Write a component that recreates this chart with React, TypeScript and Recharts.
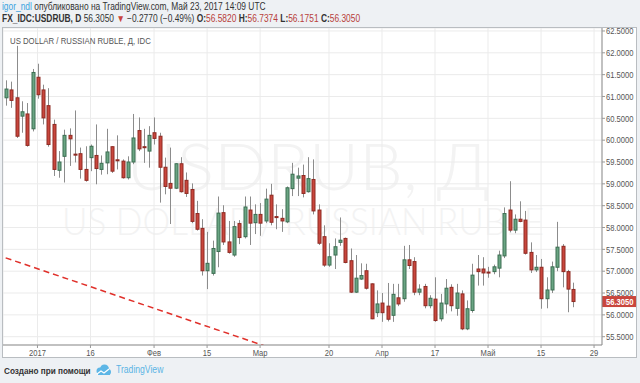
import React from 'react';
import {
  Bar,
  BarChart,
  CartesianGrid,
  ReferenceLine,
  XAxis,
  YAxis,
} from 'recharts';

// trading days, Dec 23 2016 .. May 23 2017
const dates = [
  '2016-12-23', '2016-12-26', '2016-12-27', '2016-12-28', '2016-12-29', '2016-12-30',
  '2017-01-02', '2017-01-03', '2017-01-04', '2017-01-05', '2017-01-06', '2017-01-09',
  '2017-01-10', '2017-01-11', '2017-01-12', '2017-01-13', '2017-01-16', '2017-01-17',
  '2017-01-18', '2017-01-19', '2017-01-20', '2017-01-23', '2017-01-24', '2017-01-25',
  '2017-01-26', '2017-01-27', '2017-01-30', '2017-01-31', '2017-02-01', '2017-02-02',
  '2017-02-03', '2017-02-06', '2017-02-07', '2017-02-08', '2017-02-09', '2017-02-10',
  '2017-02-13', '2017-02-14', '2017-02-15', '2017-02-16', '2017-02-17', '2017-02-20',
  '2017-02-21', '2017-02-22', '2017-02-23', '2017-02-24', '2017-02-27', '2017-02-28',
  '2017-03-01', '2017-03-02', '2017-03-03', '2017-03-06', '2017-03-07', '2017-03-08',
  '2017-03-09', '2017-03-10', '2017-03-13', '2017-03-14', '2017-03-15', '2017-03-16',
  '2017-03-17', '2017-03-20', '2017-03-21', '2017-03-22', '2017-03-23', '2017-03-24',
  '2017-03-27', '2017-03-28', '2017-03-29', '2017-03-30', '2017-03-31', '2017-04-03',
  '2017-04-04', '2017-04-05', '2017-04-06', '2017-04-07', '2017-04-10', '2017-04-11',
  '2017-04-12', '2017-04-13', '2017-04-14', '2017-04-17', '2017-04-18', '2017-04-19',
  '2017-04-20', '2017-04-21', '2017-04-24', '2017-04-25', '2017-04-26', '2017-04-27',
  '2017-04-28', '2017-05-01', '2017-05-02', '2017-05-03', '2017-05-04', '2017-05-05',
  '2017-05-08', '2017-05-09', '2017-05-10', '2017-05-11', '2017-05-12', '2017-05-15',
  '2017-05-16', '2017-05-17', '2017-05-18', '2017-05-19', '2017-05-22', '2017-05-23',
];
// empty space on the right of the chart
const futureDates = ['2017-05-24', '2017-05-25', '2017-05-26', '2017-05-29', '2017-05-30'];

const opens = [
  60.97, 61.15, 60.97, 60.55, 60.6, 60.26, 61.44, 61.15, 60.79, 60.36,
  59.31, 59.63, 60.11, 59.68, 59.69, 59.33, 59.6, 59.65, 59.33, 59.48,
  59.85, 59.55, 59.52, 59.14, 59.5, 60.22, 59.85, 59.75, 60.17, 60.09,
  59.38, 59.01, 58.9, 59.46, 59.08, 58.87, 58.32, 57.98, 57.01, 56.95,
  57.45, 58.34, 57.67, 57.37, 58.09, 57.79, 58.4, 58.11, 58.3, 58.15,
  58.74, 58.25, 58.21, 58.13, 58.89, 59.13, 59.19, 58.82, 59.1, 58.4,
  57.79, 57.14, 57.37, 57.66, 57.75, 57.24, 56.52, 56.82, 57.01, 56.71,
  56.05, 56.27, 56.2, 55.99, 56.39, 56.37, 57.26, 57.22, 56.52, 56.65,
  56.21, 56.36, 55.91, 56.25, 56.63, 56.15, 56.48, 55.68, 56.1, 57.05,
  57.05, 56.98, 56.99, 57.07, 57.35, 58.4, 57.94, 58.19, 58.17, 57.43,
  57.03, 57.09, 56.37, 56.57, 57.09, 57.57, 56.99, 56.582,
];
const highs = [
  61.37, 61.34, 62.16, 60.89, 60.85, 61.63, 61.75, 61.27, 61.19, 60.47,
  59.75, 60.24, 60.27, 60.68, 59.83, 59.86, 59.9, 60.36, 59.65, 60.26,
  59.86, 60.11, 59.56, 59.63, 60.6, 60.52, 60.26, 60.32, 60.52, 60.17,
  59.6, 59.83, 59.47, 59.61, 59.26, 59.01, 58.61, 58.19, 57.9, 57.7,
  58.71, 58.51, 58.15, 58.15, 58.17, 58.71, 58.71, 58.53, 58.56, 58.89,
  59.0, 58.53, 58.42, 58.94, 59.48, 59.37, 59.44, 59.61, 59.56, 58.53,
  58.05, 57.64, 57.75, 58.23, 57.77, 57.52, 57.37, 57.18, 57.17, 56.72,
  56.56, 56.5, 56.73, 56.71, 56.71, 57.58, 57.6, 57.32, 56.7, 56.71,
  56.45, 56.86, 56.48, 56.82, 56.7, 56.71, 56.56, 56.33, 57.17, 57.37,
  57.32, 57.1, 57.15, 57.47, 58.46, 59.06, 58.3, 58.6, 58.38, 57.66,
  57.37, 57.28, 56.86, 57.22, 58.13, 57.62, 57.03, 56.7374,
];
const lows = [
  60.79, 60.74, 60.05, 60.17, 59.85, 60.2, 60.95, 60.36, 59.85, 59.18,
  59.14, 59.03, 59.41, 59.49, 59.12, 59.05, 59.29, 58.99, 59.21, 59.22,
  59.25, 59.33, 59.12, 59.1, 59.45, 59.75, 59.48, 59.37, 59.9, 58.57,
  58.76, 58.08, 58.88, 58.8, 58.7, 58.1, 57.93, 56.9, 56.59, 56.9,
  57.09, 57.6, 57.4, 57.33, 57.62, 57.75, 57.6, 57.85, 57.81, 58.1,
  58.05, 57.96, 57.9, 58.1, 58.72, 58.72, 58.69, 58.8, 58.3, 57.6,
  57.1, 57.1, 57.05, 57.58, 57.18, 56.5, 56.5, 56.8, 56.58, 55.9,
  55.95, 55.84, 55.85, 55.84, 56.2, 56.3, 57.05, 56.45, 56.45, 56.15,
  56.15, 55.84, 55.85, 56.03, 56.08, 55.98, 55.65, 55.65, 56.05, 56.67,
  56.67, 56.85, 56.93, 56.86, 57.3, 57.89, 57.87, 58.12, 57.38, 56.96,
  56.98, 56.14, 56.15, 56.5, 57.0, 56.63, 56.06, 56.1751,
];
const closes = [
  61.17, 60.91, 60.09, 60.65, 59.88, 61.55, 61.04, 60.51, 59.9, 59.33,
  59.5, 60.11, 60.03, 59.67, 59.33, 59.08, 59.86, 59.35, 59.47, 59.73,
  59.29, 59.53, 59.14, 59.5, 60.05, 59.8, 59.83, 60.11, 60.04, 59.38,
  58.94, 58.9, 59.46, 58.82, 58.78, 58.14, 57.96, 57.01, 57.18, 57.52,
  58.33, 57.67, 57.43, 58.02, 57.77, 58.47, 58.1, 58.3, 58.1, 58.65,
  58.12, 58.24, 58.15, 58.91, 59.22, 59.18, 58.78, 59.12, 58.38, 57.64,
  57.14, 57.33, 57.56, 57.71, 57.2, 56.52, 56.84, 56.9, 56.61, 55.91,
  56.25, 56.05, 55.9, 56.47, 56.25, 57.26, 57.13, 56.52, 56.59, 56.21,
  56.38, 55.87, 56.27, 56.61, 56.21, 56.5, 55.68, 56.14, 56.91, 56.99,
  56.96, 56.97, 57.1, 57.37, 58.32, 57.94, 58.19, 58.14, 57.41, 57.03,
  57.09, 56.37, 56.57, 57.1, 57.55, 56.99, 56.59, 56.305,
];

const xTicks = [
  '2017-01-02', '2017-01-16', '2017-02-01', '2017-02-15', '2017-03-01', '2017-03-20',
  '2017-04-03', '2017-04-17', '2017-05-01', '2017-05-15', '2017-05-29',
];
const xTickLabels = ['2017', '16', 'Фев', '15', 'Мар', '20', 'Апр', '17', 'Май', '15', '29'];
const yTicks = [55.5, 56, 56.5, 57, 57.5, 58, 58.5, 59, 59.5, 60, 60.5, 61, 61.5, 62, 62.5];

// user-drawn trend line (red dashed)
const trendStart = { d: '2016-12-23', v: 57.305 };
const trendEnd = { d: '2017-03-09', v: 55.077 };

const lastClose = closes[closes.length - 1];

const rows = [...dates, ...futureDates].map((d, i) =>
  i < opens.length
    ? { d, o: opens[i], h: highs[i], l: lows[i], c: closes[i], range: [lows[i], highs[i]] }
    : { d }
);

const FONT = '"Liberation Sans", Arial, sans-serif';
const RED = '#c9463d';
const GREEN = '#6aa583';

function Candle(props: any) {
  const { x, y, width, height, payload } = props;
  if (!payload || payload.o == null) return <g />;
  const { o, h, l, c } = payload;
  const top = Math.min(y, y + height);
  const hgt = Math.abs(height);
  const ppu = hgt / (h - l || 1);
  const yOf = (v: number) => top + (h - v) * ppu;
  const cx = Math.round(x + width / 2) + 0.5;
  const up = c >= o;
  const bTop = yOf(Math.max(o, c));
  const bBot = yOf(Math.min(o, c));
  return (
    <g>
      <line x1={cx} x2={cx} y1={top} y2={top + hgt} stroke="#8c8c8c" strokeWidth={1} />
      <rect
        x={cx - 1.5}
        y={bTop}
        width={3}
        height={Math.max(bBot - bTop, 1)}
        fill={up ? GREEN : RED}
        stroke={up ? '#3c6e52' : '#8e2a22'}
        strokeWidth={1}
      />
    </g>
  );
}

function XTick({ x, y, payload }: any) {
  const label = xTickLabels[xTicks.indexOf(payload.value)] ?? '';
  return (
    <text
      transform={`translate(${x},${y + 6.3}) scale(0.8,1)`}
      textAnchor="middle"
      fontSize={9.5}
      fill="#555"
      fontFamily={FONT}
    >
      {label}
    </text>
  );
}

function YTick({ x, y, payload }: any) {
  return (
    <text
      transform={`translate(${x - 1},${y + 3.3}) scale(0.8,1)`}
      textAnchor="start"
      fontSize={9.5}
      fill="#555"
      fontFamily={FONT}
    >
      {Number(payload.value).toFixed(4)}
    </text>
  );
}

function PriceTag({ viewBox }: any) {
  const { x, y, width } = viewBox;
  const left = x + width;
  return (
    <g>
      <rect x={left} y={y - 5.5} width={34} height={11} fill={RED} />
      <text
        transform={`translate(${left + 4},${y + 3.3}) scale(0.8,1)`}
        fontSize={9.5}
        fontWeight="bold"
        fill="#fff"
        fontFamily={FONT}
      >
        {lastClose.toFixed(4)}
      </text>
    </g>
  );
}

const squeeze: React.CSSProperties = {
  position: 'absolute',
  whiteSpace: 'nowrap',
  transform: 'scaleX(0.82)',
  transformOrigin: 'left top',
  fontFamily: FONT,
  fontSize: 9.5,
  lineHeight: '11px',
  color: '#333',
};
const header: React.CSSProperties = { ...squeeze, fontSize: 10, transform: 'scaleX(0.84)' };

export default function App() {
  return (
    <div style={{ position: 'relative', width: 640, height: 383, background: '#eef1f4', overflow: 'hidden' }}>
      <style>{'body{margin:0}'}</style>

      <div style={{ ...header, left: 2, top: 1 }}>
        <span style={{ color: '#3ba3df' }}>igor_ndl</span> опубликовано на TradingView.com, Май 23, 2017 14:09 UTC
      </div>
      <div style={{ ...header, left: 2, top: 13 }}>
        <b>FX_IDC:USDRUB, D</b> 56.3050 <span style={{ color: RED }}>▼</span> −0.2770 (−0.49%){' '}
        <b>O:</b><span style={{ color: '#b8403a' }}>56.5820</span>{' '}
        <b>H:</b><span style={{ color: '#b8403a' }}>56.7374</span>{' '}
        <b>L:</b><span style={{ color: '#b8403a' }}>56.1751</span>{' '}
        <b>C:</b><span style={{ color: '#b8403a' }}>56.3050</span>
      </div>

      <div
        style={{
          position: 'absolute',
          left: 2,
          top: 27,
          width: 635,
          height: 331,
          boxSizing: 'border-box',
          background: '#fff',
          border: '1px solid #b9bdc1',
        }}
      />

      <svg style={{ position: 'absolute', left: 0, top: 0 }} width={640} height={383}>
        <text
          x={308}
          y={190}
          textAnchor="middle"
          fontSize={66}
          fontFamily="Lato, 'Open Sans', sans-serif"
          fontWeight={300}
          fill="#f3f3f3"
          textLength={363}
          lengthAdjust="spacingAndGlyphs"
        >
          USDRUB, Д
        </text>
        <text
          x={303}
          y={235}
          textAnchor="middle"
          fontSize={37}
          fontFamily="Lato, 'Open Sans', sans-serif"
          fontWeight={300}
          fill="#f3f3f3"
          textLength={482}
          lengthAdjust="spacingAndGlyphs"
        >
          US DOLLAR / RUSSIAN RUBLE
        </text>
      </svg>

      <div style={{ position: 'absolute', left: 3, top: 28 }}>
        <BarChart
          width={633}
          height={331}
          data={rows}
          margin={{ top: 0, right: 0, bottom: 0, left: 0 }}
          barCategoryGap={0}
        >
          <CartesianGrid stroke="#ebebeb" />
          <XAxis
            dataKey="d"
            ticks={xTicks}
            interval={0}
            tick={<XTick />}
            tickSize={3}
            tickLine={{ stroke: '#999' }}
            axisLine={{ stroke: '#8d8d8d' }}
            height={14}
          />
          <YAxis
            orientation="right"
            domain={[55.31, 62.568]}
            ticks={yTicks}
            interval={0}
            allowDataOverflow
            tick={<YTick />}
            tickSize={3}
            tickLine={{ stroke: '#999' }}
            axisLine={{ stroke: '#8d8d8d' }}
            width={34}
          />
          <ReferenceLine
            segment={[
              { x: trendStart.d, y: trendStart.v },
              { x: trendEnd.d, y: trendEnd.v },
            ]}
            stroke="#e0302a"
            strokeWidth={1.5}
            strokeDasharray="6 4"
            ifOverflow="hidden"
          />
          <Bar dataKey="range" barSize={4} shape={<Candle />} isAnimationActive={false} />
          <ReferenceLine y={lastClose} stroke="none" label={<PriceTag />} />
        </BarChart>
      </div>

      <div style={{ ...squeeze, left: 10, top: 35, color: '#555' }}>US DOLLAR / RUSSIAN RUBLE, Д, IDC</div>

      <div style={{ ...squeeze, left: 4, top: 365, fontWeight: 'bold', transform: 'scaleX(0.86)' }}>Создано при помощи</div>
      <svg style={{ position: 'absolute', left: 95, top: 364 }} width={17} height={12}>
        <circle cx={5} cy={7} r={3.5} fill="#5db6e6" />
        <circle cx={9.5} cy={5} r={4.5} fill="#5db6e6" />
        <circle cx={13} cy={8} r={3} fill="#5db6e6" />
        <rect x={3} y={8} width={12} height={3} fill="#5db6e6" />
        <path d="M2 10 L6 7 L9 9 L14 5" stroke="#fff" strokeWidth={1.2} fill="none" />
      </svg>
      <div style={{ ...squeeze, left: 116, top: 364, fontSize: 10.5, color: '#5ab4e4' }}>TradingView</div>
    </div>
  );
}
